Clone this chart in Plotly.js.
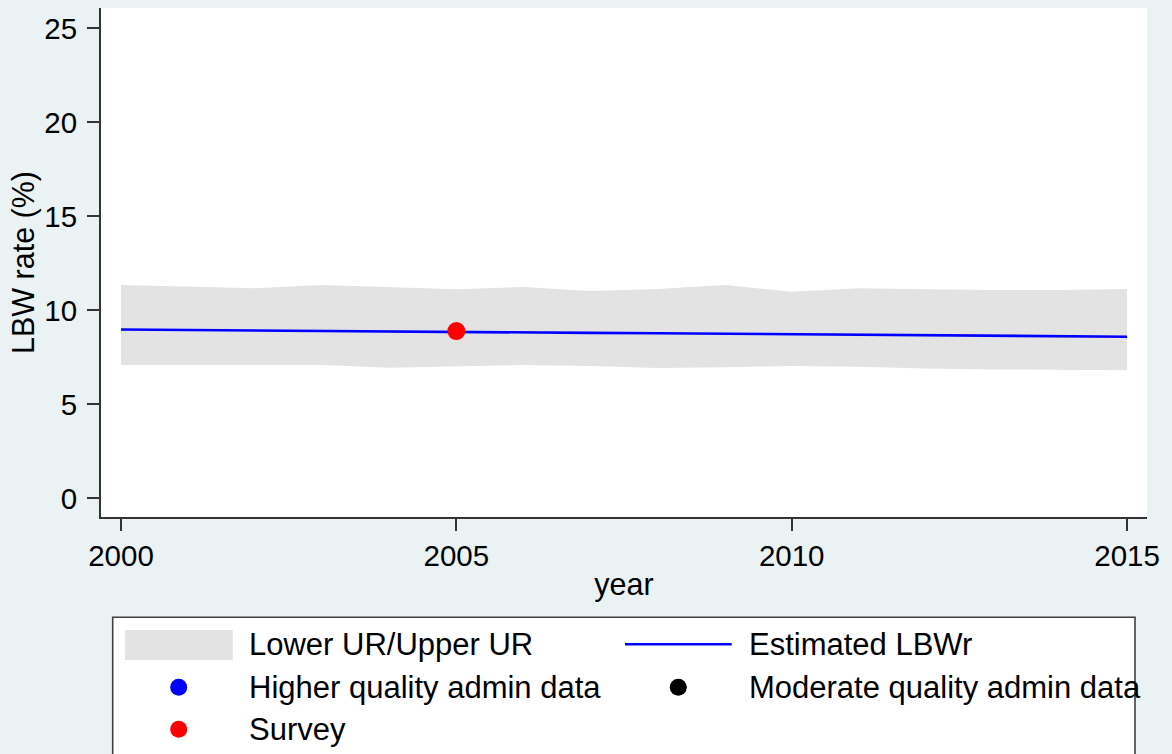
<!DOCTYPE html>
<html>
<head>
<meta charset="utf-8">
<script src="https://cdn.plot.ly/plotly-3.0.1.min.js"></script>
<style>html,body{margin:0;padding:0;background:#EAF2F3;}#chart{width:1172px;height:754px;}</style>
</head>
<body>
<div id="chart"></div>
<script>
// ---- data ----
const years = [2000,2001,2002,2003,2004,2005,2006,2007,2008,2009,2010,2011,2012,2013,2014,2015];
const upperUR = [11.35,11.26,11.17,11.35,11.22,11.12,11.24,11.03,11.13,11.35,10.99,11.17,11.12,11.08,11.08,11.13];
const lowerUR = [7.09,7.09,7.13,7.09,6.95,7.00,7.09,7.04,6.93,6.97,7.04,7.00,6.91,6.86,6.86,6.82];
const estimatedLBWr = [8.98,8.95,8.93,8.90,8.88,8.85,8.83,8.80,8.78,8.76,8.73,8.71,8.68,8.66,8.63,8.60];
const surveyYears = [2005];
const surveyValues = [8.90];
const higherAdminYears = [];
const higherAdminValues = [];
const moderateAdminYears = [];
const moderateAdminValues = [];
const legendLabels = ["Lower UR/Upper UR","Estimated LBWr","Higher quality admin data","Moderate quality admin data","Survey"];
const xTicks = [2000,2005,2010,2015];
const yTicks = [0,5,10,15,20,25];

// ---- layout helpers (pixel -> paper) ----
const W = 1172, H = 754;
const M = {l:101, r:25, t:8, b:237};
const PW = W - M.l - M.r, PH = H - M.t - M.b;
const px = x => (x - M.l) / PW;
const py = y => (H - M.b - y) / PH;

const FONT = "Liberation Sans, Arial, sans-serif";
const FS_TICK = 29.5;
const FS_TITLE = 30.5;
const FS_LEG = 31;

const traces = [
  {x: years, y: lowerUR, type:'scatter', mode:'lines', line:{width:0, color:'#E3E3E3'}, showlegend:false, hoverinfo:'skip'},
  {x: years, y: upperUR, type:'scatter', mode:'lines', fill:'tonexty', fillcolor:'#E3E3E3', line:{width:0, color:'#E3E3E3'}, name: legendLabels[0], showlegend:false},
  {x: years, y: estimatedLBWr, type:'scatter', mode:'lines', line:{color:'#0000FF', width:2.6}, name: legendLabels[1], showlegend:false},
  {x: higherAdminYears, y: higherAdminValues, type:'scatter', mode:'markers', marker:{color:'#0000FF', size:18}, name: legendLabels[2], showlegend:false},
  {x: moderateAdminYears, y: moderateAdminValues, type:'scatter', mode:'markers', marker:{color:'#000000', size:18}, name: legendLabels[3], showlegend:false},
  {x: surveyYears, y: surveyValues, type:'scatter', mode:'markers', marker:{color:'#FF0000', size:18}, name: legendLabels[4], showlegend:false}
];

// manual Stata-style legend
const shapes = [
  {type:'rect', xref:'paper', yref:'paper', x0:px(112.7), x1:px(1135), y0:py(800), y1:py(617.3), fillcolor:'#FFFFFF', line:{color:'#404040', width:1.6}, layer:'above'},
  {type:'rect', xref:'paper', yref:'paper', x0:px(125), x1:px(232.7), y0:py(660), y1:py(630), fillcolor:'#E3E3E3', line:{width:0}, layer:'above'},
  {type:'line', xref:'paper', yref:'paper', x0:px(625), x1:px(731.7), y0:py(644.3), y1:py(644.3), line:{color:'#0000FF', width:2.6}, layer:'above'},
  {type:'circle', xref:'paper', yref:'paper', x0:px(170.2), x1:px(187.2), y0:py(695.8), y1:py(678.8), fillcolor:'#0000FF', line:{width:0}, layer:'above'},
  {type:'circle', xref:'paper', yref:'paper', x0:px(669.8), x1:px(686.8), y0:py(695.8), y1:py(678.8), fillcolor:'#000000', line:{width:0}, layer:'above'},
  {type:'circle', xref:'paper', yref:'paper', x0:px(170.2), x1:px(187.2), y0:py(737.8), y1:py(720.8), fillcolor:'#FF0000', line:{width:0}, layer:'above'}
];
const legendPos = [[247.4,644.5],[747.4,644.5],[247.4,687],[747.4,687],[247.4,729.5]];
const annotations = legendLabels.map((t,i)=>({
  text:t, xref:'paper', yref:'paper', x:px(legendPos[i][0]), y:py(legendPos[i][1]),
  xanchor:'left', yanchor:'middle', showarrow:false, font:{family:FONT, size:FS_LEG, color:'#000'}
}));

const layout = {
  width:W, height:H,
  margin:M,
  paper_bgcolor:'#EAF2F3',
  plot_bgcolor:'#FFFFFF',
  font:{family:FONT, size:FS_TICK, color:'#000'},
  showlegend:false,
  xaxis:{
    range:[2000 - 20/67.07, 2000 + 1026/67.07],
    tickvals:xTicks, ticktext:xTicks.map(String),
    ticks:'outside', ticklen:12, tickwidth:2, tickcolor:'#333',
    showline:true, linecolor:'#333', linewidth:2,
    showgrid:false, zeroline:false,
    tickfont:{family:FONT, size:FS_TICK, color:'#000'},
    title:{text:'year', font:{family:FONT, size:FS_TITLE, color:'#000'}, standoff:2},
    automargin:false
  },
  yaxis:{
    range:[-0.99, 26.08],
    tickvals:yTicks, ticktext:yTicks.map(String),
    ticks:'outside', ticklen:12, tickwidth:2, tickcolor:'#333',
    showline:true, linecolor:'#333', linewidth:2,
    showgrid:false, zeroline:false,
    tickfont:{family:FONT, size:FS_TICK, color:'#000'},
    ticklabelstandoff:4,
    title:{text:'LBW rate (%)', font:{family:FONT, size:FS_TITLE, color:'#000'}, standoff:1},
    automargin:false
  },
  shapes:shapes,
  annotations:annotations
};

Plotly.newPlot('chart', traces, layout, {displayModeBar:false, staticPlot:true});
</script>
</body>
</html>
